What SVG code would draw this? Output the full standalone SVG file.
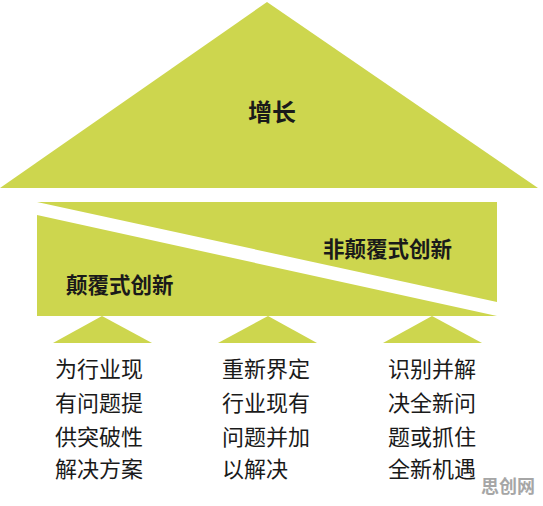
<svg xmlns="http://www.w3.org/2000/svg" width="543" height="506" viewBox="0 0 543 506">
  <style>
    .g { fill: #CDD64E; }
    .t { font-family: "Noto Sans CJK SC", "Noto Sans", sans-serif; fill: #1a1a1a; dominant-baseline: central; }
    .h { font-weight: 700; }
    .b { font-size: 22px; }
    .wm { font-family: "Noto Sans CJK SC", sans-serif; font-weight: 700; font-size: 18px; fill: #a6a6a6; dominant-baseline: central; }
  </style>
  <rect width="543" height="506" fill="#ffffff"/>
  <g id="roof">
    <polygon class="g" points="267,2 538,188 0,188"/>
    <text class="t h" x="272" y="110" font-size="24" text-anchor="middle">增长</text>
  </g>
  <g id="non-disruptive">
    <polygon class="g" points="37,202 497,202 497,302"/>
    <text class="t h" x="323" y="247" font-size="21.5">非颠覆式创新</text>
  </g>
  <g id="disruptive">
    <polygon class="g" points="37,215 497,316 37,316"/>
    <text class="t h" x="66" y="283" font-size="21.5">颠覆式创新</text>
  </g>
  <g id="pillar1">
    <polygon class="g" points="102,316 152,343 53,343"/>
    <text class="t b" x="55" y="367">为行业现</text>
    <text class="t b" x="55" y="401">有问题提</text>
    <text class="t b" x="55" y="435">供突破性</text>
    <text class="t b" x="55" y="467">解决方案</text>
  </g>
  <g id="pillar2">
    <polygon class="g" points="268,316 317,343 218,343"/>
    <text class="t b" x="222" y="367">重新界定</text>
    <text class="t b" x="222" y="401">行业现有</text>
    <text class="t b" x="222" y="435">问题并加</text>
    <text class="t b" x="222" y="467">以解决</text>
  </g>
  <g id="pillar3">
    <polygon class="g" points="432,316 482,343 383,343"/>
    <text class="t b" x="388" y="367">识别并解</text>
    <text class="t b" x="388" y="401">决全新问</text>
    <text class="t b" x="388" y="435">题或抓住</text>
    <text class="t b" x="388" y="467">全新机遇</text>
  </g>
  <g id="connectors"></g>
  <text class="wm" x="481" y="485">思创网</text>
</svg>
